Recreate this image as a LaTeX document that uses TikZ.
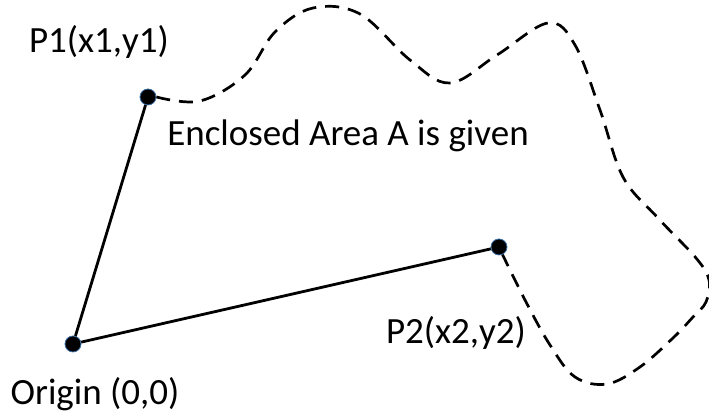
\documentclass[tikz,border=0pt]{standalone}
\usepackage{fontspec}
\setmainfont{Carlito}
\usepackage{tikz}
\usetikzlibrary{positioning,calc}
\definecolor{cedge}{HTML}{3A6EA5}
\tikzset{
  pt/.style={circle, fill=black, draw=cedge, line width=0.4pt, inner sep=0pt, minimum size=8pt},
  seg/.style={line width=1.4pt},
  bound/.style={line width=1.35pt, dash pattern=on 7pt off 4.5pt},
  lbl/.style={font=\fontsize{18.5}{22}\selectfont, inner sep=0pt},
}
\begin{document}
\begin{tikzpicture}[x=0.5pt,y=-0.5pt]
\useasboundingbox (0,0) rectangle (709,415);
% points
\node[pt] (orig) at (73,344) {};
\node[pt] (p1) at (148,97) {};
\node[pt] (p2) at (499,247) {};
% labels
\node[lbl] (lorig) at (95,394) {Origin (0,0)};
\node[lbl] (lp1) at (99,42) {P1(x1,y1)};
\node[lbl] (lp2) at (456,333) {P2(x2,y2)};
\node[lbl] (larea) at (348,136) {Enclosed Area A is given};
% segments
\draw[seg] (orig) -- (p1);
\draw[seg] (orig) -- (p2);
% boundary
\draw[bound] plot[smooth, tension=0.6] coordinates {(p1.east) (200,101) (245,75) (275,32) (313,8)
  (360,14) (410,60) (450,83) (497,55) (548,23) (575,45) (600,110) (623,177) (657,217)
  (696,258) (709,280) (706,302) (693,317) (673,338) (640,367) (607,384) (575,377)
  (550,345) (525,300) (p2.-65)};
\end{tikzpicture}
\end{document}
